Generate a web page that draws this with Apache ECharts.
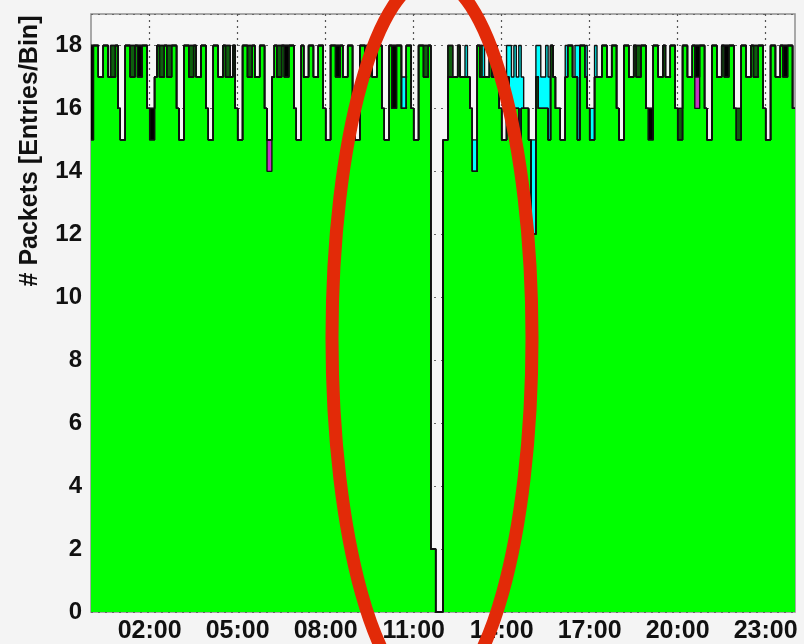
<!DOCTYPE html>
<html>
<head>
<meta charset="utf-8">
<script src="https://cdn.jsdelivr.net/npm/echarts@6/dist/echarts.min.js"></script>
<style>
  html, body { margin: 0; padding: 0; background: #f4f4f4; }
  #chart { width: 804px; height: 644px; }
</style>
</head>
<body>
<div id="chart"></div>
<script>
// Packet counts per 5-minute bin over one day (288 bins), split by packet class.
// One line per hour, 12 bins each.
const binMinutes = 5;

const greenCounts = [
  15,18,18,17,17,18,18,17,17,17,18,16,
  15,15,18,18,17,17,18,17,17,18,18,16,
  15,15,17,18,17,17,18,17,17,18,18,16,
  15,15,18,18,17,17,18,17,17,18,18,16,
  15,15,18,18,17,17,18,17,17,17,18,16,
  15,15,18,18,17,17,18,17,17,18,18,16,
  14,14,17,18,17,17,18,17,17,18,18,16,
  15,15,18,17,17,18,18,17,17,18,18,16,
  15,15,18,18,17,17,18,17,17,18,18,16,
  15,15,18,18,17,17,18,17,17,18,18,16,
  15,15,18,16,16,18,18,16,16,18,18,16,
  15,15,18,18,17,17,18,2,2,0,0,0,
  15,15,17,17,17,17,18,17,17,17,17,16,
  14,14,18,17,17,17,17,18,17,18,17,16,
  15,15,17,16,16,16,16,15,16,16,16,15,
  12,12,17,16,16,16,16,15,18,17,16,16,
  15,15,17,18,18,17,17,15,18,18,17,16,
  15,15,17,17,17,18,18,17,17,18,18,16,
  15,15,18,18,17,17,18,17,17,18,18,16,
  15,15,18,18,17,17,18,17,17,18,18,16,
  15,15,18,18,17,17,18,16,16,18,18,16,
  15,15,18,18,17,17,18,17,17,18,18,16,
  15,15,18,18,17,17,18,17,17,18,18,16,
  15,15,18,18,17,17,18,17,17,18,18,16
];

const magentaCounts = [
  0,0,0,0,0,0,0,0,0,0,0,0,
  0,0,0,0,0,0,0,0,0,0,0,0,
  0,0,0,0,0,0,0,0,0,0,0,0,
  0,0,0,0,0,0,0,0,0,0,0,0,
  0,0,0,0,0,0,0,0,0,0,0,0,
  0,0,0,0,0,0,0,0,0,0,0,0,
  1,1,0,0,0,0,0,0,0,0,0,0,
  0,0,0,0,0,0,0,0,0,0,0,0,
  0,0,0,0,0,0,0,0,0,0,0,0,
  0,0,0,0,0,0,0,0,0,0,0,0,
  0,0,0,0,0,0,0,0,0,0,0,0,
  0,0,0,0,0,0,0,0,0,0,0,0,
  0,0,0,0,0,0,0,0,0,0,0,0,
  0,0,0,0,0,0,0,0,0,0,0,0,
  0,0,0,0,0,0,0,0,0,0,0,0,
  0,0,0,0,0,0,0,0,0,0,0,0,
  0,0,0,0,0,0,0,0,0,0,0,0,
  0,0,0,0,0,0,0,0,0,0,0,0,
  0,0,0,0,0,0,0,0,0,0,0,0,
  0,0,0,0,0,0,0,0,0,0,0,0,
  0,0,0,0,0,0,0,1,1,0,0,0,
  0,0,0,0,0,0,0,0,0,0,0,0,
  0,0,0,0,0,0,0,0,0,0,0,0,
  0,0,0,0,0,0,0,0,0,0,0,0
];

const blackCounts = [
  3,0,0,0,0,0,0,0,0,0,0,0,
  0,0,0,0,0,0,0,1,1,0,0,0,
  1,1,0,0,0,0,0,0,0,0,0,0,
  0,0,0,0,0,0,0,0,0,0,0,0,
  0,0,0,0,0,0,0,0,0,0,0,0,
  0,0,0,0,0,0,0,0,0,0,0,0,
  0,0,0,0,0,0,0,1,1,0,0,0,
  0,0,0,0,0,0,0,0,0,0,0,0,
  0,0,0,0,1,1,0,0,0,0,0,0,
  0,0,0,0,0,0,0,0,0,0,0,0,
  0,0,0,2,2,0,0,0,0,0,0,0,
  0,0,0,0,0,0,0,0,0,0,0,0,
  0,0,0,0,0,0,0,0,0,0,0,0,
  0,0,0,0,0,0,0,0,0,0,0,0,
  0,0,0,0,0,0,0,0,0,0,0,0,
  0,0,0,0,0,0,0,0,0,0,0,0,
  0,0,0,0,0,0,0,0,0,0,0,0,
  0,0,0,0,0,0,0,0,0,0,0,0,
  0,0,0,0,0,0,0,0,0,0,0,0,
  1,1,0,0,0,0,0,0,0,0,0,0,
  0,0,0,0,0,0,0,1,1,0,0,0,
  0,0,0,0,0,0,0,1,1,0,0,0,
  0,0,0,0,0,0,0,0,0,0,0,0,
  0,0,0,0,0,0,0,1,1,0,0,0
];

const darkGreenCounts = [
  0,0,0,0,0,0,0,0,1,1,0,0,
  0,0,0,0,1,1,0,0,0,0,0,0,
  0,0,0,0,1,1,0,1,1,0,0,0,
  0,0,0,0,1,1,0,0,0,0,0,0,
  0,0,0,0,0,0,0,1,1,0,0,0,
  0,0,0,0,1,1,0,0,0,0,0,0,
  0,0,0,0,1,1,0,0,0,0,0,0,
  0,0,0,0,0,0,0,0,0,0,0,0,
  0,0,0,0,0,0,0,0,0,0,0,0,
  0,0,0,0,1,1,0,0,0,0,0,0,
  0,0,0,0,0,0,0,0,0,0,0,0,
  0,0,0,0,1,1,0,0,0,0,0,0,
  0,0,1,1,0,0,0,0,0,0,0,0,
  0,0,0,1,0,0,0,0,0,0,0,0,
  0,0,0,0,0,0,0,0,0,0,0,0,
  0,0,0,0,0,0,0,0,0,0,0,0,
  0,0,0,0,0,0,0,0,0,0,0,0,
  0,0,0,0,0,0,0,0,0,0,0,0,
  0,0,0,0,0,0,0,1,1,0,0,0,
  0,0,0,0,0,0,0,0,0,0,0,0,
  1,1,0,0,0,0,0,0,0,0,0,0,
  0,0,0,0,0,0,0,0,0,0,0,0,
  1,1,0,0,0,0,0,1,1,0,0,0,
  0,0,0,0,0,0,0,0,0,0,0,0
];

const cyanCounts = [
  0,0,0,0,0,0,0,0,0,0,0,0,
  0,0,0,0,0,0,0,0,0,0,0,0,
  0,0,0,0,0,0,0,0,0,0,0,0,
  0,0,0,0,0,0,0,0,0,0,0,0,
  0,0,0,0,0,0,0,0,0,0,0,0,
  0,0,0,0,0,0,0,0,0,0,0,0,
  0,0,0,0,0,0,0,0,0,0,0,0,
  0,0,0,0,0,0,0,0,0,0,0,0,
  0,0,0,0,0,0,0,0,0,0,0,0,
  0,0,0,0,0,0,0,0,0,0,0,0,
  0,0,0,0,0,0,0,1,1,0,0,0,
  0,0,0,0,0,0,0,0,0,0,0,0,
  0,0,0,0,0,0,0,0,0,1,0,0,
  1,1,0,0,1,0,0,0,1,0,0,0,
  0,0,1,2,1,2,1,3,1,0,0,0,
  3,3,1,2,1,1,2,2,0,0,0,0,
  0,0,1,0,0,0,1,3,0,0,1,0,
  1,1,1,0,0,0,0,0,0,0,0,0,
  0,0,0,0,0,0,0,0,0,0,0,0,
  0,0,0,0,0,0,0,0,0,0,0,0,
  0,0,0,0,0,0,0,0,0,0,0,0,
  0,0,0,0,0,0,0,0,0,0,0,0,
  0,0,0,0,0,0,0,0,0,0,0,0,
  0,0,0,0,0,0,0,0,0,0,0,0
];

const timeTickLabels = ['02:00', '05:00', '08:00', '11:00', '14:00', '17:00', '20:00', '23:00'];
const yTitle = '# Packets [Entries/Bin]';

// Bin edges as HH:MM categories (0:00 .. 24:00)
const pad = n => String(n).padStart(2, '0');
const binEdges = [];
for (let i = 0; i <= greenCounts.length; i++) {
  const m = i * binMinutes;
  binEdges.push(pad(Math.floor(m / 60)) + ':' + pad(m % 60));
}
// histogram steps: one value per edge, last bin repeated to close the final step
const steps = arr => arr.concat([arr[arr.length - 1]]);

const font = '"Liberation Sans", Arial, Helvetica, sans-serif';
const outline = { color: '#111', width: 1.4 };

function layer(name, counts, color) {
  return {
    name, type: 'line', stack: 'packets', step: 'end',
    data: steps(counts), showSymbol: false, symbol: 'none',
    lineStyle: outline, areaStyle: { color, opacity: 1 },
    silent: true, animation: false
  };
}

const chart = echarts.init(document.getElementById('chart'), null, { renderer: 'canvas' });
chart.setOption({
  backgroundColor: '#f4f4f4',
  animation: false,
  grid: { left: 91, right: 9, top: 14, bottom: 32, show: true, borderColor: '#8f8f8f', borderWidth: 1.5, backgroundColor: '#f6f6f6' },
  xAxis: {
    type: 'category', data: binEdges, boundaryGap: false,
    axisLine: { show: false }, axisTick: { show: false },
    axisLabel: {
      interval: (idx, val) => timeTickLabels.includes(val),
      formatter: v => v,
      color: '#111', fontFamily: font, fontWeight: 'bold', fontSize: 25, margin: 7
    },
    splitLine: {
      show: true, interval: (idx, val) => timeTickLabels.includes(val),
      lineStyle: { color: '#555', type: [2, 4], width: 1.2 }
    }
  },
  yAxis: {
    type: 'value', min: 0, max: 19, interval: 2,
    axisLine: { show: false }, axisTick: { show: false },
    axisLabel: { color: '#111', fontFamily: font, fontWeight: 'bold', fontSize: 24, margin: 9, showMaxLabel: false },
    splitLine: { show: true, lineStyle: { color: '#666', type: [2, 5], width: 1 } }
  },
  series: [
    layer('main', greenCounts, '#00ff00'),
    layer('class M', magentaCounts, '#c236c2'),
    layer('class K', blackCounts, '#000000'),
    layer('class D', darkGreenCounts, '#0d5f0d'),
    layer('class C', cyanCounts, '#00ffff')
  ],
  graphic: [
    {
      type: 'text', x: 30, y: 151, rotation: Math.PI / 2, z: 10,
      style: { text: yTitle, font: 'bold 25px ' + font, fill: '#111', align: 'center', verticalAlign: 'middle' }
    },
    {
      type: 'ellipse', z: 20, silent: true,
      shape: { cx: 432, cy: 338, rx: 100, ry: 360 },
      style: { fill: 'none', stroke: '#e22a08', lineWidth: 13 }
    }
  ]
});
</script>
</body>
</html>
